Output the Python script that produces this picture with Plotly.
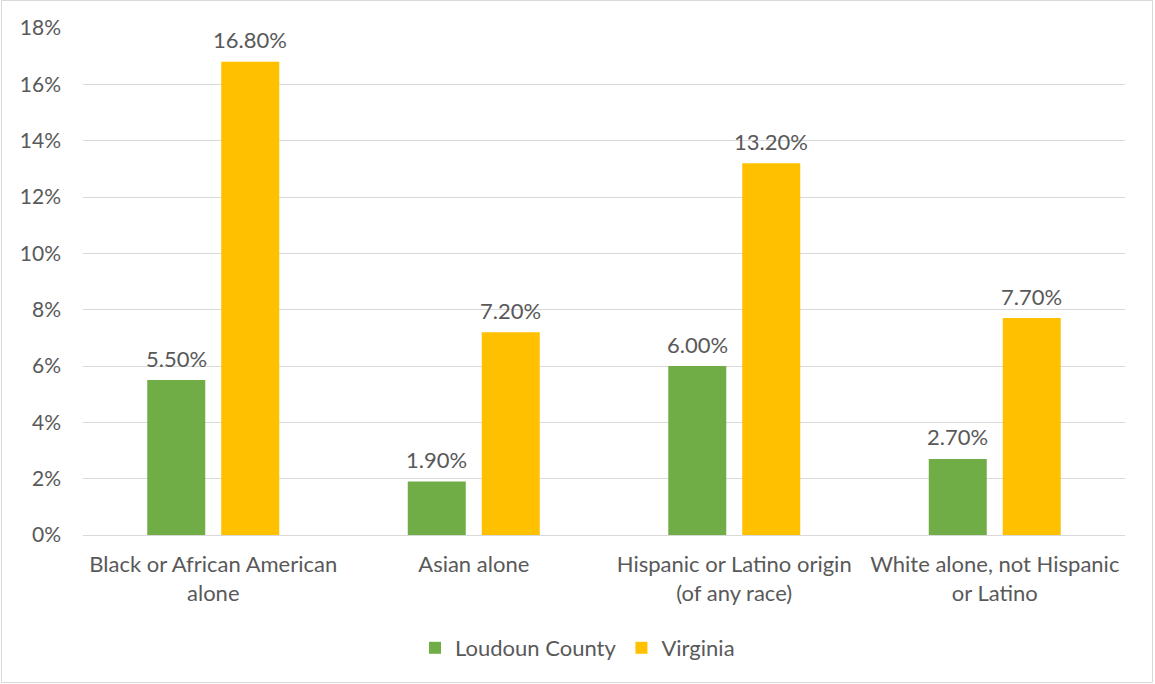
import plotly.graph_objects as go

categories = ["Black or African American<br>alone", "Asian alone",
              "Hispanic or Latino origin<br>(of any race)", "White alone, not Hispanic<br>or Latino"]
loudoun = [0.055, 0.019, 0.060, 0.027]
virginia = [0.168, 0.072, 0.132, 0.077]
series_names = ["Loudoun County", "Virginia"]
colors = ["#70AD47", "#FFC000"]
tick_vals = [0, 0.02, 0.04, 0.06, 0.08, 0.10, 0.12, 0.14, 0.16, 0.18]

FONT = "Lato"
TXT = "#595959"
FS = 22

fig = go.Figure()
for name, vals, col in zip(series_names, [loudoun, virginia], colors):
    fig.add_trace(go.Bar(x=categories, y=vals, name=name, marker_color=col,
                         marker_line_width=0, hoverinfo="skip"))

annotations = []
for shift, vals in zip([-37, 37], [loudoun, virginia]):
    for c, v in zip(categories, vals):
        annotations.append(dict(x=c, y=v, xref="x", yref="y", text=f"{v*100:.2f}%",
                                showarrow=False, xshift=shift, yshift=22, yanchor="middle",
                                font=dict(family=FONT, size=FS, color=TXT)))

W, H = 1155, 684
L, R, T, B = 83, 30, 28, 149
pw, ph = W - L - R, H - T - B
fig.add_shape(type="rect", xref="paper", yref="paper",
              x0=(1.5 - L) / pw, x1=(W - 2.5 - L) / pw,
              y0=(T + ph - (H - 1.5)) / ph,
              y1=(T + ph - 0.5) / ph,
              line=dict(color="#D9D9D9", width=1), layer="below")

fig.update_layout(
    width=W, height=H, margin=dict(l=L, r=R, t=T, b=B),
    paper_bgcolor="white", plot_bgcolor="white",
    barmode="group", bargap=0.432, bargroupgap=0.216,
    font=dict(family=FONT, size=FS, color=TXT),
    annotations=annotations,
    showlegend=True,
    legend=dict(orientation="h", xref="container", yref="container", x=0.5, y=1 - 648 / H,
                xanchor="center", yanchor="middle", font=dict(family=FONT, size=FS, color=TXT)),
    xaxis=dict(showgrid=False, showline=False, ticks="", tickfont=dict(size=FS, color=TXT),
               ticklabelstandoff=14),
    yaxis=dict(range=[0, 0.18], tickvals=tick_vals, tickformat=".0%", showgrid=True,
               gridcolor="#D9D9D9", gridwidth=1, zeroline=True, zerolinecolor="#D9D9D9",
               zerolinewidth=1, showline=False, ticks="", ticklabelstandoff=21,
               tickfont=dict(size=21, color=TXT)),
)
fig.write_html("out.html")
